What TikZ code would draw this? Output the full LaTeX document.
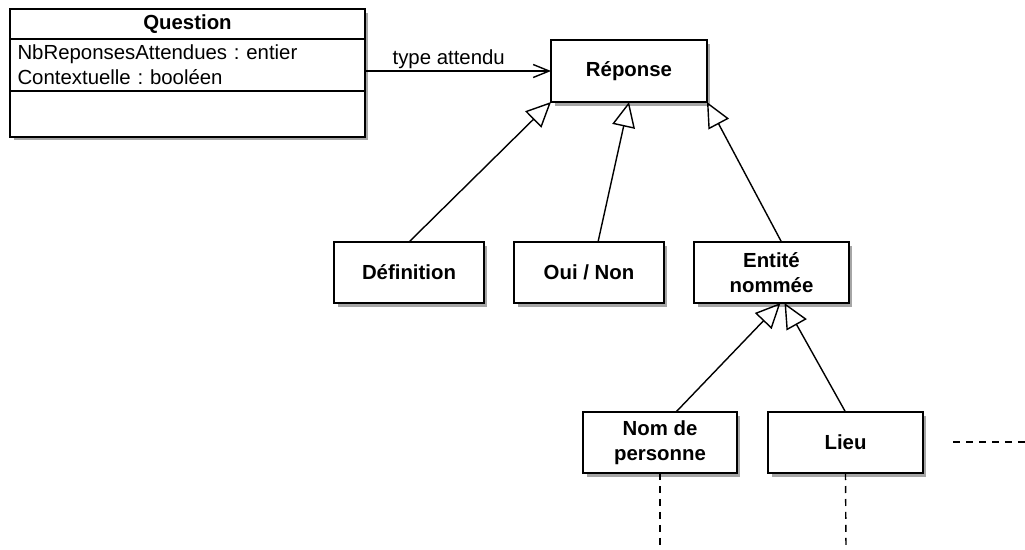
\documentclass[tikz,border=0pt]{standalone}
\usepackage{fontspec}
\setmainfont{Liberation Sans}
\frenchspacing
\usetikzlibrary{positioning,arrows.meta}
\newcommand{\taille}{\fontsize{11.6}{14.4}\selectfont}
\tikzset{classe/.style={draw,fill=white,line width=0.8pt,outer sep=0pt,inner ysep=1pt,font=\taille\bfseries,align=center,minimum width=3cm,minimum height=1.22cm,preaction={fill=black!35,transform canvas={xshift=0.07cm,yshift=-0.07cm}}}}
\tikzset{herite/.style={-{Triangle[open,length=0.5cm,width=0.46cm]},line width=0.8pt}}
\tikzset{assoc/.style={-{Straight Barb[length=0.32cm,width=0.26cm]},line width=0.8pt}}
\tikzset{suite/.style={dash pattern=on 0.14cm off 0.12cm,line width=0.8pt}}

\begin{document}
\begin{tikzpicture}[x=0.02cm,y=-0.02cm]
  \useasboundingbox (0,0) rectangle (1025,549);
  \node[classe,minimum width=7.1cm,minimum height=0.6cm] (qtitle) at (187.5,24) {Question};
  \node[classe,minimum width=7.1cm,minimum height=1.04cm,text width=6.8cm,align=left,font=\taille,below=0pt of qtitle] (qattr) {NbReponsesAttendues : entier\\Contextuelle : booléen};
  \node[classe,minimum width=7.1cm,minimum height=0.92cm,below=0pt of qattr] (qmeth) {};
  \node[classe,minimum width=3.12cm,minimum height=1.24cm] (reponse) at (629,71) {Réponse};
  \node[classe] (definition) at (409,272.5) {Définition};
  \node[classe] (ouinon) at (589,272.5) {Oui / Non};
  \node[classe,minimum width=3.1cm] (entite) at (771.5,272.5) {Entité\\nommée};
  \node[classe,minimum width=3.08cm] (nompers) at (660,442.5) {Nom de\\personne};
  \node[classe,minimum width=3.1cm] (lieu) at (845.5,442.5) {Lieu};
  \coordinate (finnom) at (660,549);
  \coordinate (finlieu) at (846,549);
  \coordinate (autredeb) at (953,442);
  \coordinate (autrefin) at (1025,442);
  \draw[assoc] (reponse.west -| qattr.east) -- (reponse.west)
    node[pos=0.45,above,inner sep=1pt,font=\taille] {type attendu};
  \draw[herite] (definition.north) -- (reponse.south west);
  \draw[herite] ([xshift=0.18cm]ouinon.north) -- (reponse.south);
  \draw[herite] ([xshift=0.2cm]entite.north) -- (reponse.south east);
  \draw[herite] ([xshift=0.32cm]nompers.north) -- ([xshift=0.18cm]entite.south);
  \draw[herite] (lieu.north) -- ([xshift=0.26cm]entite.south);
  \draw[suite] (nompers.south) -- (finnom);
  \draw[suite] (lieu.south) -- (finlieu);
  \draw[suite] (autredeb) -- (autrefin);
\end{tikzpicture}
\end{document}
